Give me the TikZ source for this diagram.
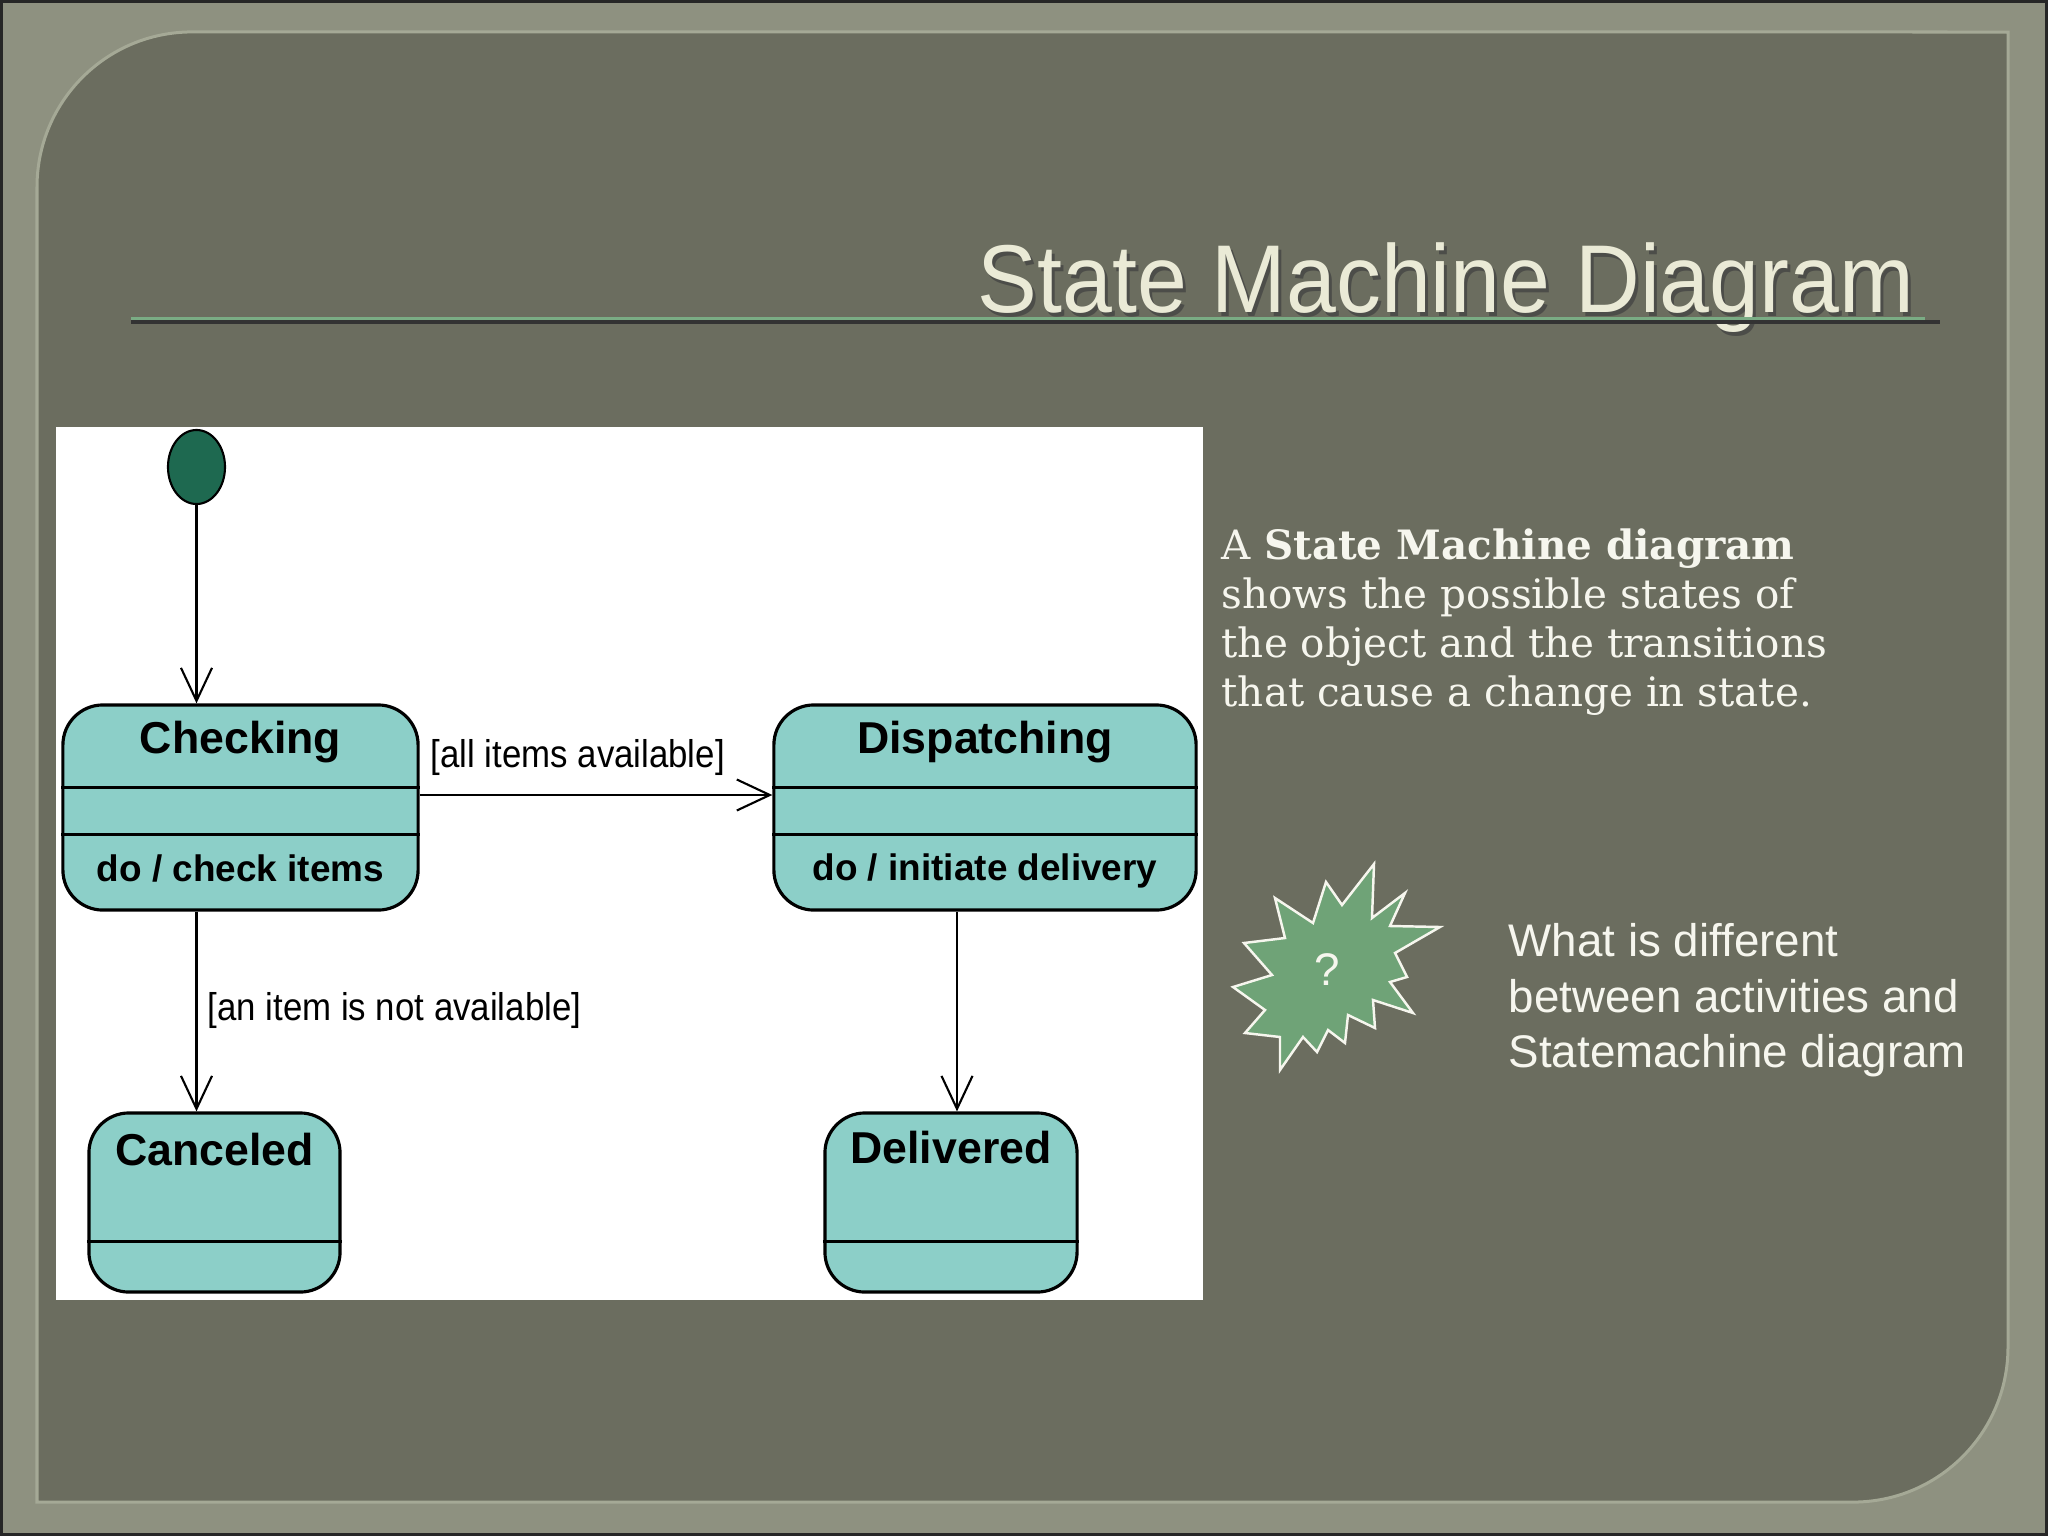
\documentclass[tikz,border=0pt]{standalone}
\usepackage{fontspec}
\setmainfont{DejaVu Serif}
\setsansfont{Liberation Sans}
\newfontfamily\titlefont[FakeStretch=0.93]{Liberation Sans}
\newfontfamily\guardfont[FakeStretch=0.9]{Liberation Sans}
\usetikzlibrary{positioning, shapes.geometric, arrows.meta, calc}
\definecolor{outerframe}{RGB}{142,145,128}
\definecolor{panelgrey}{RGB}{107,109,95}
\definecolor{panelrim}{RGB}{165,169,150}
\definecolor{titlecream}{RGB}{234,234,214}
\definecolor{rulegreen}{RGB}{122,172,132}
\definecolor{statefill}{RGB}{140,207,200}
\definecolor{initgreen}{RGB}{30,105,80}
\definecolor{burstgreen}{RGB}{111,163,119}
\definecolor{slidetext}{RGB}{246,246,238}

\begin{document}
\begin{tikzpicture}[
  x=0.01cm, y=-0.01cm,
  font=\sffamily,
  statebox/.style={
    draw=black,
    line width=0.9pt,
    fill=statefill,
    rectangle,
    rounded corners=4mm,
    inner sep=0pt
  },
  statename/.style={anchor=base, inner sep=0pt, font=\sffamily\bfseries\fontsize{12.7}{14}\selectfont},
  stateact/.style={anchor=base, inner sep=0pt, font=\sffamily\bfseries\fontsize{10.5}{12}\selectfont},
  statesep/.style={draw=black, line width=0.8pt},
  initstate/.style={ellipse, draw=black, line width=0.6pt, fill=initgreen,
    minimum width=5.7mm, minimum height=7.4mm, inner sep=0pt},
  trans/.style={draw=black, line width=0.6pt, -{Straight Barb[length=3.3mm, width=3.1mm]}},
  guard/.style={anchor=base west, inner sep=0pt, font=\guardfont\fontsize{11}{13}\selectfont},
  burst/.style={draw=slidetext, line width=0.7pt, fill=burstgreen, line join=miter}
]

  % --- Slide background ---
  \useasboundingbox (0,0) rectangle (2048,1536);
  \fill[outerframe] (0,0) rectangle (2048,1536);
  \draw[black!85, line width=0.35mm] (1.5,1.5) rectangle (2046.5,1534.5);
  \filldraw[fill=panelgrey, draw=panelrim, line width=0.3mm]
    (37,1502) -- (37,187) arc[start angle=180, end angle=90, radius=15.5mm]
    -- (2008,32) -- (2008,1347) arc[start angle=0, end angle=-90, radius=15.5mm]
    -- cycle;

  % --- Title and rule ---
  \node[anchor=base west, inner sep=0pt, text=black!75, opacity=0.7,
        font=\titlefont\fontsize{27.4}{30}\selectfont]
       (title-shadow) at (980,316) {State Machine Diagram};
  \node[anchor=base west, inner sep=0pt, text=titlecream,
        font=\titlefont\fontsize{27.4}{30}\selectfont]
       (title) at (977,312) {State Machine Diagram};
  \draw[black!80, line width=0.9pt] (131,322) -- (1940,322);
  \draw[rulegreen, line width=0.8pt] (131,318.5) -- (1925,318.5);

  % --- Diagram area ---
  \fill[white] (56,427) rectangle (1203,1300);

  \node[initstate] (init) at (196.5,467) {};

  \node[statebox, minimum width=35.5mm, minimum height=20.5mm] (checking)    at (240.5,807.5) {};
  \node[statebox, minimum width=42.2mm, minimum height=20.5mm] (dispatching) at (985,807.5) {};
  \node[statebox, minimum width=25.1mm, minimum height=17.9mm] (canceled)    at (214.5,1202.5) {};
  \node[statebox, minimum width=25.2mm, minimum height=17.9mm] (delivered)   at (951,1202.5) {};

  % compartments
  \foreach \s in {checking, dispatching}
    \foreach \d in {8.4, 13.1}
      \draw[statesep] ([yshift=-\d mm]\s.north west) -- ([yshift=-\d mm]\s.north east);
  \foreach \s in {canceled, delivered}
    \draw[statesep] ([yshift=-13mm]\s.north west) -- ([yshift=-13mm]\s.north east);

  % state texts
  \node[statename] (checking-name)    at ([yshift=-5mm]checking.north)    {Checking};
  \node[stateact]  (checking-do)      at ([yshift=-17.8mm]checking.north) {do / check items};
  \node[statename] (dispatching-name) at ([yshift=-5mm]dispatching.north) {Dispatching};
  \node[stateact]  (dispatching-do)   at ([yshift=-17.7mm]dispatching.north) {do / initiate delivery};
  \node[statename] (canceled-name)    at ([yshift=-5.4mm]canceled.north)  {Canceled};
  \node[statename] (delivered-name)   at ([yshift=-5.2mm]delivered.north) {Delivered};

  % transitions
  \draw[trans] (init) -- (init |- checking.north);
  \draw[trans] ([yshift=1.25mm]checking.east) -- ([yshift=1.25mm]dispatching.west);
  \draw[trans] (checking.south -| init) -- (canceled.north -| init);
  \draw[trans] ([xshift=0.6mm]dispatching.south -| delivered.north) -- ([xshift=0.6mm]delivered.north);

  \node[guard] (guard-ok)  at (430,767)  {[all items available]};
  \node[guard] (guard-not) at (207,1020) {[an item is not available]};

  % --- Explanation ---
  \node[anchor=north west, inner sep=0pt, align=left, text=slidetext,
        font=\rmfamily\fontsize{11.5}{13.9}\selectfont]
       (intro) at (1221,528)
       {A \textbf{State Machine diagram}\\shows the possible states of\\the object and the transitions\\that cause a change in state.};

  % --- Question burst ---
  \draw[burst] (1275,898) -- (1313,923) -- (1326,882) -- (1342,905) -- (1374,864)
    -- (1372,918) -- (1405,893) -- (1390,926) -- (1440,927) -- (1395,953)
    -- (1407,977) -- (1390,982) -- (1413,1013) -- (1373,1000) -- (1375,1028)
    -- (1348,1015) -- (1345,1043) -- (1328,1030) -- (1317,1052) -- (1303,1037)
    -- (1280,1070) -- (1280,1037) -- (1245,1033) -- (1265,1010) -- (1233,987)
    -- (1272,975) -- (1244,943) -- (1285,938) -- cycle;
  \node[text=slidetext, font=\sffamily\fontsize{13}{15}\selectfont] (qmark) at (1327,970) {?};

  \node[anchor=north west, inner sep=0pt, align=left, text=slidetext,
        font=\sffamily\fontsize{13}{15.8}\selectfont]
       (question) at (1508,923)
       {What is different\\between activities and\\Statemachine diagram};

\end{tikzpicture}
\end{document}
